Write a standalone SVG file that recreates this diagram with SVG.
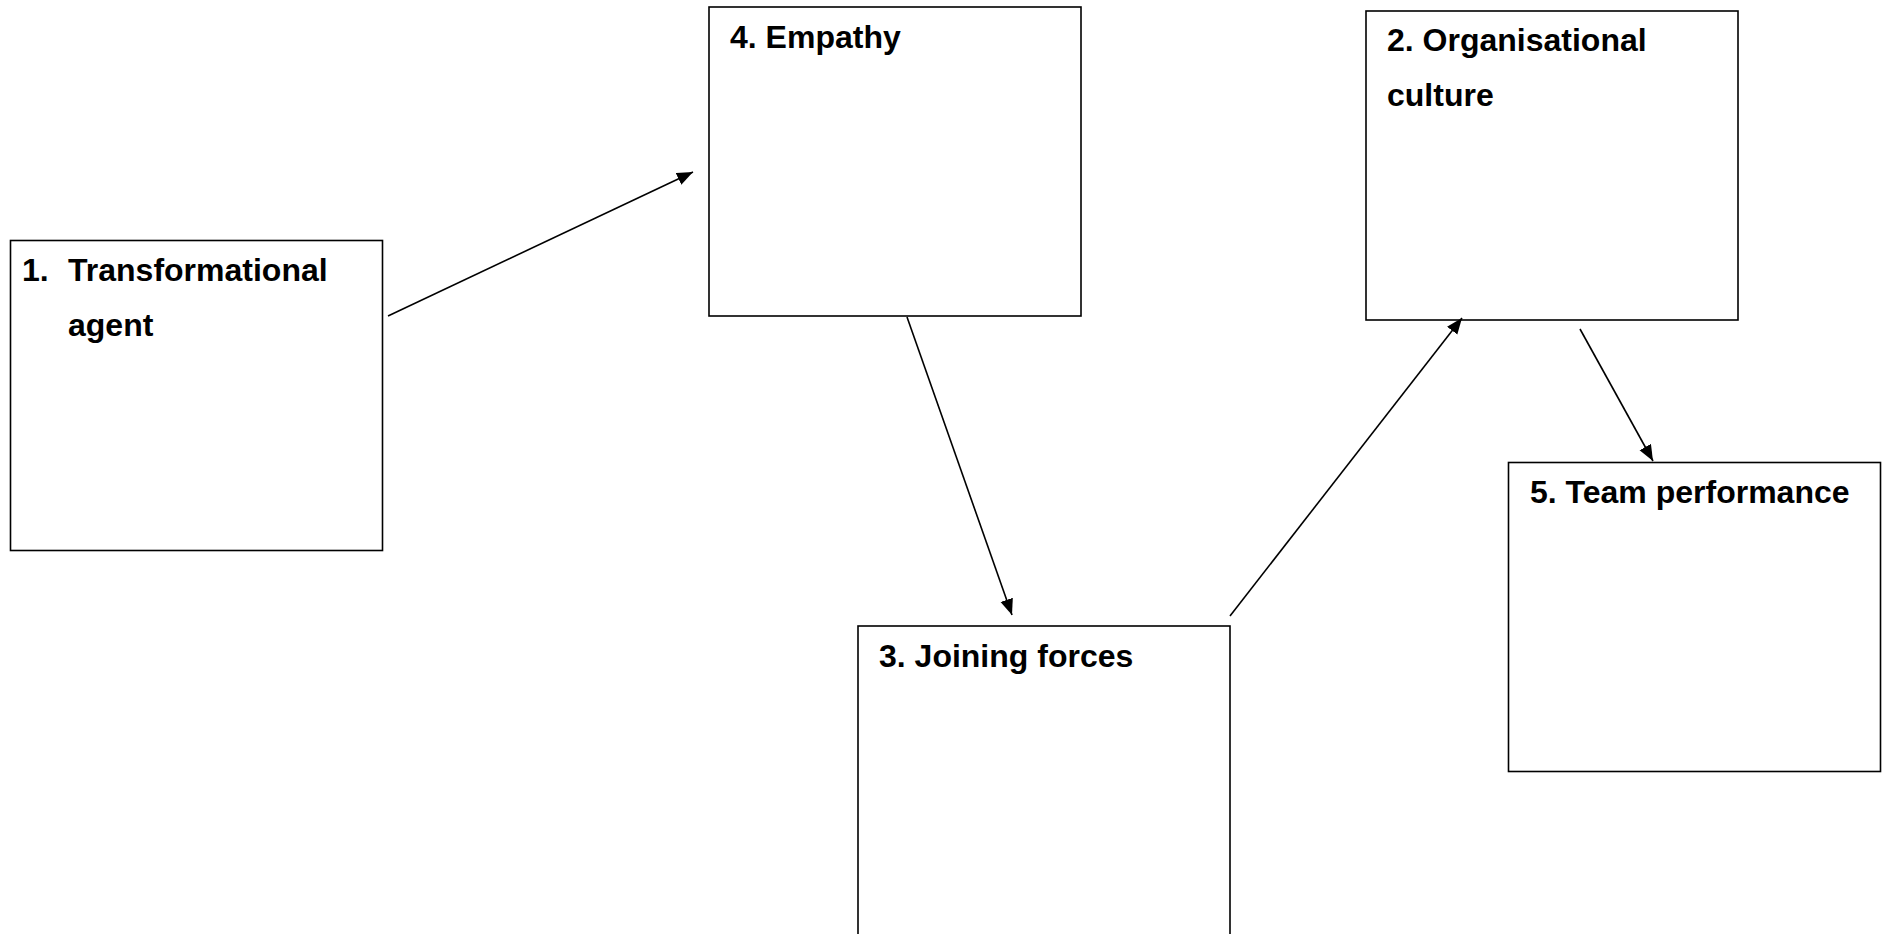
<svg xmlns="http://www.w3.org/2000/svg" width="1887" height="934" viewBox="0 0 1887 934">
<style>
.box{fill:#fff;stroke:#000;stroke-width:1.6}
.lbl{font-family:"Liberation Sans",Arial,sans-serif;font-weight:bold;font-size:32px;fill:#000}
.conn{stroke:#000;stroke-width:1.6;fill:none;marker-end:url(#arr)}
</style>
<defs>
<marker id="arr" markerUnits="userSpaceOnUse" markerWidth="18" markerHeight="14" refX="16" refY="6.5" orient="auto">
<path d="M0,0 L16,6.5 L0,13 z" fill="#000"/>
</marker>
</defs>
<rect width="1887" height="934" fill="#fff"/>
<g id="node1">
<rect class="box" x="10.5" y="240.5" width="372" height="310"/>
<text class="lbl" x="22" y="281">1.</text>
<text class="lbl" x="68" y="281">Transformational</text>
<text class="lbl" x="68" y="336">agent</text>
</g>
<g id="node4">
<rect class="box" x="709" y="7" width="372" height="309"/>
<text class="lbl" x="730" y="48">4. Empathy</text>
</g>
<g id="node2">
<rect class="box" x="1366" y="11" width="372" height="309"/>
<text class="lbl" x="1387" y="51">2. Organisational</text>
<text class="lbl" x="1387" y="106">culture</text>
</g>
<g id="node5">
<rect class="box" x="1508.5" y="462.5" width="372" height="309"/>
<text class="lbl" x="1530" y="503">5. Team performance</text>
</g>
<g id="node3">
<rect class="box" x="858" y="626" width="372" height="330"/>
<text class="lbl" x="879" y="667">3. Joining forces</text>
</g>
<g id="connectors">
<line class="conn" x1="388" y1="316" x2="693" y2="172"/>
<line class="conn" x1="907" y1="317" x2="1012" y2="615"/>
<line class="conn" x1="1230" y1="616" x2="1462" y2="318"/>
<line class="conn" x1="1580" y1="329" x2="1653" y2="461"/>
</g>
</svg>
